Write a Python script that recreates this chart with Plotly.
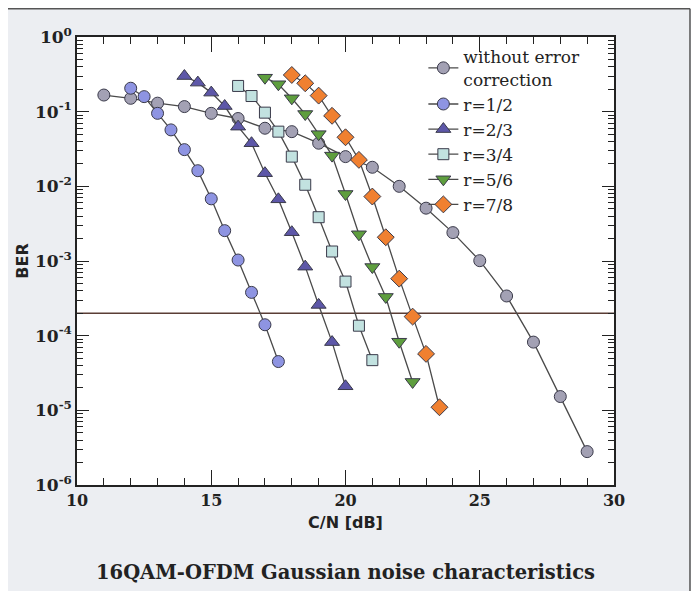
import plotly.graph_objects as go

# ---------------- data ----------------
x_uncoded = [11, 12, 13, 14, 15, 16, 17, 18, 19, 20, 21, 22, 23, 24, 25, 26, 27, 28, 29]
ber_uncoded = [0.167, 0.151, 0.13, 0.117, 0.095, 0.081, 0.060, 0.054, 0.0378, 0.025,
               0.018, 0.010, 0.0051, 0.0024, 0.00101, 3.4e-4, 8.2e-5, 1.53e-5, 2.8e-6]

x_r12 = [12, 12.5, 13, 13.5, 14, 14.5, 15, 15.5, 16, 16.5, 17, 17.5]
ber_r12 = [0.206, 0.159, 0.095, 0.057, 0.031, 0.0162, 0.0068, 0.00255, 0.00103,
           3.8e-4, 1.4e-4, 4.5e-5]

x_r23 = [14, 14.5, 15, 15.5, 16, 16.5, 17, 17.5, 18, 18.5, 19, 19.5, 20]
ber_r23 = [0.30, 0.245, 0.18, 0.119, 0.063, 0.0378, 0.015, 0.0067, 0.00243,
           8.4e-4, 2.58e-4, 8.2e-5, 2.1e-5]

x_r34 = [16, 16.5, 17, 17.5, 18, 18.5, 19, 19.5, 20, 20.5, 21]
ber_r34 = [0.221, 0.162, 0.097, 0.054, 0.025, 0.0105, 0.00386, 0.00134, 5.3e-4,
           1.36e-4, 4.7e-5]

x_r56 = [17, 17.5, 18, 18.5, 19, 19.5, 20, 20.5, 21, 21.5, 22, 22.5]
ber_r56 = [0.285, 0.233, 0.151, 0.093, 0.05, 0.0258, 0.0079, 0.00228, 8.3e-4,
           3.3e-4, 8.3e-5, 2.4e-5]

x_r78 = [18, 18.5, 19, 19.5, 20, 20.5, 21, 21.5, 22, 22.5, 23, 23.5]
ber_r78 = [0.31, 0.24, 0.164, 0.088, 0.0454, 0.0226, 0.0073, 0.00208, 5.8e-4,
           1.8e-4, 5.7e-5, 1.1e-5]

ref_x = [10, 30]
ref_ber = [2e-4, 2e-4]

series_names = ["without error<br>correction", "r=1/2", "r=2/3", "r=3/4", "r=5/6", "r=7/8"]

y_tickvals = [1, 0.1, 0.01, 0.001, 1e-4, 1e-5, 1e-6]
y_ticktext = ["10<sup>0</sup>", "10<sup>-1</sup>", "10<sup>-2</sup>", "10<sup>-3</sup>",
              "10<sup>-4</sup>", "10<sup>-5</sup>", "10<sup>-6</sup>"]
x_tickvals = [10, 15, 20, 25, 30]
x_ticktext = ["10", "15", "20", "25", "30"]

title_text = "16QAM-OFDM Gaussian noise characteristics"
x_title = "C/N [dB]"
y_title = "BER"

# ---------------- styles ----------------
LINE = "#4a4a4a"
styles = [
    dict(symbol="circle", color="#a3a1b4", size=12),
    dict(symbol="circle", color="#8e94e2", size=12),
    dict(symbol="triangle-up", color="#5d57a8", size=13),
    dict(symbol="square", color="#c2e2e0", size=11),
    dict(symbol="triangle-down", color="#5e9e3e", size=13),
    dict(symbol="diamond", color="#f08030", size=13),
]
xs = [x_uncoded, x_r12, x_r23, x_r34, x_r56, x_r78]
ys = [ber_uncoded, ber_r12, ber_r23, ber_r34, ber_r56, ber_r78]

fig = go.Figure()

fig.add_trace(go.Scatter(x=ref_x, y=ref_ber, mode="lines",
                         line=dict(color="#5a3d35", width=1.5),
                         showlegend=False, hoverinfo="skip"))

for name, x, y, st in zip(series_names, xs, ys, styles):
    fig.add_trace(go.Scatter(
        x=x, y=y, mode="lines+markers", name=name,
        line=dict(color=LINE, width=1.3),
        marker=dict(symbol=st["symbol"], size=st["size"], color=st["color"],
                    line=dict(color="#3a3a4a", width=1)),
    ))

minor_y = [m * 10 ** e for e in range(-6, 0) for m in range(2, 10)]

serif = "DejaVu Serif"

fig.update_layout(
    width=691, height=583,
    margin=dict(l=69, r=85, t=29, b=106),
    paper_bgcolor="#eceef2",
    plot_bgcolor="white",
    showlegend=True,
    legend=dict(x=0.645, y=0.995, xanchor="left", yanchor="top",
                bgcolor="rgba(0,0,0,0)", borderwidth=0,
                font=dict(family=serif, size=17, color="#222"),
                tracegroupgap=0, itemwidth=30),
    xaxis=dict(
        range=[10, 30], showgrid=False, zeroline=False,
        showline=True, linecolor="#222", linewidth=1.5, mirror="ticks",
        ticks="inside", ticklen=15, tickwidth=1.3, tickcolor="#222",
        tickmode="array", tickvals=x_tickvals, ticktext=x_ticktext,
        tickfont=dict(family=serif, size=16, color="#222", weight="bold"),
        minor=dict(ticks="inside", ticklen=7, tickwidth=1, tickcolor="#222",
                   dtick=1, showgrid=False),
        title=dict(text=x_title, font=dict(family="DejaVu Sans", size=16,
                                           color="#222", weight="bold"),
                   standoff=8),
    ),
    yaxis=dict(
        type="log", range=[-6, 0], showgrid=False, zeroline=False,
        showline=True, linecolor="#222", linewidth=1.5, mirror="ticks",
        ticks="inside", ticklen=12, tickwidth=1.3, tickcolor="#222",
        tickmode="array", tickvals=y_tickvals, ticktext=y_ticktext,
        tickfont=dict(family=serif, size=17, color="#222", weight="bold"),
        minor=dict(ticks="inside", ticklen=6, tickwidth=1, tickcolor="#222",
                   tickmode="array", tickvals=minor_y, showgrid=False),
        title=dict(text=y_title, font=dict(family="DejaVu Sans", size=16,
                                           color="#222", weight="bold"),
                   standoff=2),
    ),
)

fig.add_annotation(text=title_text, xref="paper", yref="paper",
                   x=0.5, y=-0.196, xanchor="center", yanchor="middle",
                   showarrow=False,
                   font=dict(family=serif, size=19.5, color="#222", weight="bold"))

# outer frame lines (top and right)
fig.add_shape(type="line", xref="paper", yref="paper",
              x0=-0.2, x1=1.1415, y0=1.063, y1=1.063,
              line=dict(color="#555", width=1.5))
fig.add_shape(type="line", xref="paper", yref="paper",
              x0=1.1415, x1=1.1415, y0=1.063, y1=-0.25,
              line=dict(color="#555", width=1.5))

fig.write_html("out.html")
